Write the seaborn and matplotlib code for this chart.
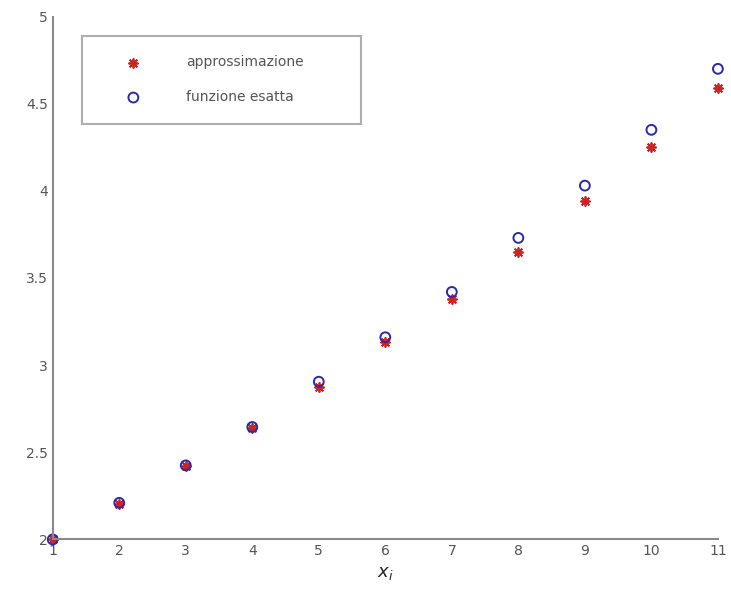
import pandas as pd
import matplotlib
matplotlib.use("Agg")
import matplotlib.pyplot as plt
import seaborn as sns

sns.set_style("white")
plt.rcParams["font.family"] = ["DejaVu Sans"]

# valori
x_nodes = [1, 2, 3, 4, 5, 6, 7, 8, 9, 10, 11]
approssimazione = [2.00, 2.205, 2.42, 2.64, 2.875, 3.13, 3.38, 3.65, 3.94, 4.25, 4.59]
funzione_esatta = [2.00, 2.21, 2.425, 2.645, 2.905, 3.16, 3.42, 3.73, 4.03, 4.35, 4.70]
y_ticks = [2, 2.5, 3, 3.5, 4, 4.5, 5]
y_tick_labels = ["2", "2.5", "3", "3.5", "4", "4.5", "5"]

df = pd.DataFrame({
    "x": x_nodes * 2,
    "y": approssimazione + funzione_esatta,
    "serie": ["approssimazione"] * len(x_nodes) + ["funzione esatta"] * len(x_nodes),
})

fig = plt.figure(figsize=(7.31, 6.13), dpi=100)
ax = fig.add_axes([0.0721, 0.120, 0.910, 0.853])

sns.scatterplot(data=df[df.serie == "approssimazione"], x="x", y="y", ax=ax,
                marker=(8, 2, 0), s=42, color="#d02020", linewidth=1.3,
                edgecolor="#d02020", label="approssimazione", clip_on=False)
sns.scatterplot(data=df[df.serie == "funzione esatta"], x="x", y="y", ax=ax,
                marker="o", s=50, facecolor="none", edgecolor="#2a2ab0",
                linewidth=1.4, label="funzione esatta", clip_on=False)

ax.set_xlim(1, 11)
ax.set_ylim(2, 5)
ax.set_xticks(x_nodes)
ax.set_yticks(y_ticks)
ax.set_yticklabels(y_tick_labels)
ax.set_xlabel(r"$x_i$", fontsize=13, color="#222222")
ax.set_ylabel("")

for side in ["top", "right"]:
    ax.spines[side].set_visible(False)
for side in ["left", "bottom"]:
    ax.spines[side].set_color("#8a8a8a")
    ax.spines[side].set_linewidth(1.5)
ax.tick_params(direction="in", length=5, width=1.2, color="#808080",
               labelsize=10, labelcolor="#555555")

leg = ax.legend(loc="upper left", bbox_to_anchor=(0.044, 0.80, 0.42, 0.163),
                mode="expand", borderaxespad=0, borderpad=1.4, handlelength=4.6,
                handletextpad=1.5, labelspacing=1.5, fontsize=10,
                frameon=True, fancybox=False)
leg.get_frame().set_edgecolor("#9a9a9a")
leg.get_frame().set_linewidth(1.5)
for t in leg.get_texts():
    t.set_color("#555555")

fig.savefig("out.png", dpi=100)
